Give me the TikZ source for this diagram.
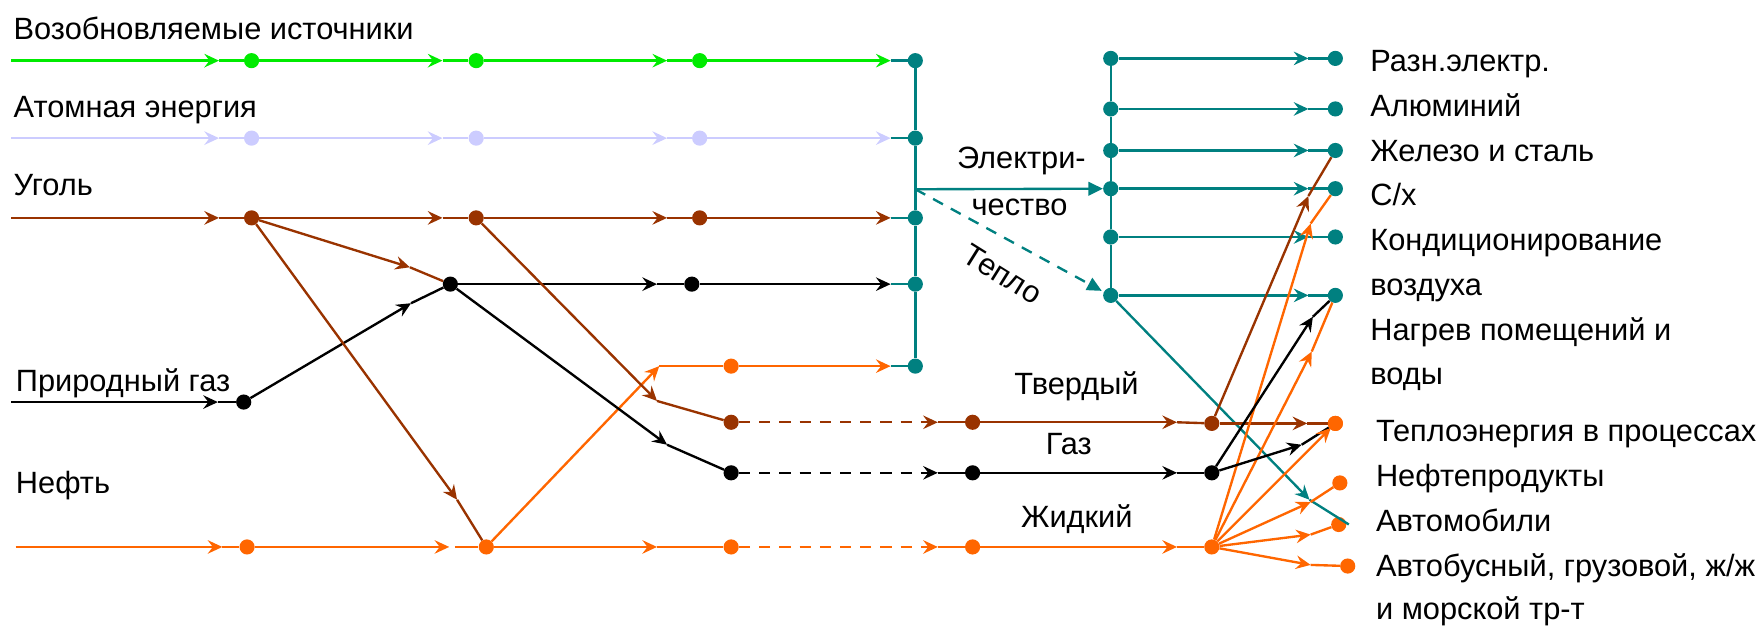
\documentclass[tikz,border=0pt]{standalone}
\usepackage{fontspec}
\setmainfont{Liberation Sans}
\usetikzlibrary{arrows.meta}
\definecolor{cgreen}{RGB}{0,235,0}
\definecolor{clav}{RGB}{204,204,255}
\definecolor{cbrown}{RGB}{153,51,0}
\definecolor{corange}{RGB}{255,102,0}
\definecolor{cteal}{RGB}{0,128,128}
\begin{document}
\begin{tikzpicture}[x=1pt,y=-1pt,
  ln/.style={line width=2.1pt},
  arr/.style={-{Stealth[length=13pt,width=12pt,inset=4.5pt]}},
  tri/.style={-{Triangle[length=13pt,width=12pt]}},
  dashln/.style={dash pattern=on 10pt off 8pt},
  dot/.style={circle,inner sep=0pt,minimum size=13.5pt,draw=none},
  lbl/.style={inner sep=0pt,anchor=base west,font=\fontsize{27.4}{32}\selectfont},
  clbl/.style={inner sep=0pt,font=\fontsize{27.4}{32}\selectfont}
]
\useasboundingbox (0,0) rectangle (1568,559);

% ---------- dots ----------
\foreach \n/\x in {1/224,2/424,3/623}{
  \node[dot,fill=cgreen] (g\n) at (\x,54) {};
  \node[dot,fill=clav] (l\n) at (\x,123) {};
  \node[dot,fill=cbrown] (c\n) at (\x,194) {};
}
\node[dot,fill=cteal] (t1) at (815,54) {};
\node[dot,fill=cteal] (t2) at (815,123) {};
\node[dot,fill=cteal] (t3) at (815,194) {};
\node[dot,fill=cteal] (t4) at (815,253) {};
\node[dot,fill=cteal] (t5) at (815,326) {};
\node[dot,fill=black] (k0) at (401,253) {};
\node[dot,fill=black] (k1) at (616,253) {};
\node[dot,fill=corange] (p1) at (651,326) {};
\node[dot,fill=black] (n1) at (217,358) {};
\node[dot,fill=corange] (o1) at (220,487) {};
\node[dot,fill=corange] (o2) at (433,487) {};
\node[dot,fill=corange] (o3) at (651,487) {};
\node[dot,fill=corange] (o4) at (866,487) {};
\node[dot,fill=corange] (hub) at (1079,487) {};
\node[dot,fill=cbrown] (s1) at (651,376) {};
\node[dot,fill=cbrown] (s2) at (866,376) {};
\node[dot,fill=cbrown] (s3) at (1079,377) {};
\node[dot,fill=black] (q1) at (651,421) {};
\node[dot,fill=black] (q2) at (866,421) {};
\node[dot,fill=black] (q3) at (1079,421) {};
\foreach \n/\y in {1/52,2/97,3/134,4/168,5/211,6/263}{
  \node[dot,fill=cteal] (r\n) at (989,\y) {};
  \node[dot,fill=cteal] (e\n) at (1189,\y) {};
  \coordinate (ra\n) at (1165,\y);
}
\node[dot,fill=corange] (h1) at (1189,377) {};
\node[dot,fill=corange] (h2) at (1193,430) {};
\node[dot,fill=corange] (h3) at (1192,467) {};
\node[dot,fill=corange] (h4) at (1200,504) {};

% ---------- coordinates ----------
\coordinate (gs) at (10,54);
\coordinate (ls) at (10,123);
\coordinate (cs) at (10,194);
\foreach \r/\y in {ga/54,la/123,ca/194}{
  \coordinate (\r1) at (195,\y);
  \coordinate (\r2) at (394,\y);
  \coordinate (\r3) at (594,\y);
  \coordinate (\r4) at (793,\y);
}
\coordinate (ka1) at (585,253);
\coordinate (ka2) at (793,253);
\coordinate (pa0) at (587,326);
\coordinate (pa1) at (793,326);
\coordinate (ns) at (10,358);
\coordinate (na1) at (194,358);
\coordinate (na2) at (366,270);
\coordinate (os) at (14,487);
\coordinate (oa1) at (198,487);
\coordinate (oa2) at (400,487);
\coordinate (ob2) at (405,487);
\coordinate (oa3) at (585,487);
\coordinate (oa4) at (835,487);
\coordinate (oa5) at (1048,487);
\coordinate (sa1) at (835,376);
\coordinate (sa2) at (1048,376);
\coordinate (sa3) at (1164,377);
\coordinate (qa1) at (835,421);
\coordinate (qa2) at (1048,421);
\coordinate (bca) at (365,238);
\coordinate (bcb) at (407,445);
\coordinate (bcc) at (585,357);
\coordinate (bkb) at (594,396);
\coordinate (ej) at (815,168.5);
\coordinate (hj) at (981,259);
\coordinate (xb) at (1165,174.5);
\coordinate (xo1) at (1167,199);
\coordinate (xo2) at (1168,313);
\coordinate (xk1) at (1169,282);
\coordinate (xk2) at (1159,396);
\coordinate (xo3) at (1185,381);
\coordinate (xt) at (1166,445);
\coordinate (xte) at (1201,467);
\coordinate (xo4) at (1167,447);
\coordinate (xo5) at (1167,476);
\coordinate (xo6) at (1167,503);

% ---------- top three rows ----------
\foreach \r/\d/\s/\col in {ga/g/gs/cgreen,la/l/ls/clav,ca/c/cs/cbrown}{
  \draw[ln,\col,arr] (\s) -- (\r1);
  \draw[ln,\col,arr] (\r1) -- (\d1) -- (\r2);
  \draw[ln,\col,arr] (\r2) -- (\d2) -- (\r3);
  \draw[ln,\col,arr] (\r3) -- (\d3) -- (\r4);
}
\draw[ln,cteal] (ga4) -- (t1);
\draw[ln,cteal] (la4) -- (t2);
\draw[ln,cteal] (ca4) -- (t3);

% ---------- black row ----------
\draw[ln,black,arr] (k0) -- (ka1);
\draw[ln,black,arr] (ka1) -- (k1) -- (ka2);
\draw[ln,cteal] (ka2) -- (t4);
% ---------- orange upper row ----------
\draw[ln,corange,arr] (o2) -- (pa0);
\draw[ln,corange,arr] (pa0) -- (p1) -- (pa1);
\draw[ln,cteal] (pa1) -- (t5);
% ---------- natural gas ----------
\draw[ln,black,arr] (ns) -- (na1);
\draw[ln,black] (na1) -- (n1);
\draw[ln,black,arr] (n1) -- (na2);
\draw[ln,black] (na2) -- (k0);
% ---------- coal branches ----------
\draw[ln,cbrown,arr] (c1) -- (bca);
\draw[ln,cbrown] (bca) -- (k0);
\draw[ln,cbrown,arr] (c1) -- (bcb);
\draw[ln,cbrown] (bcb) -- (o2);
\draw[ln,cbrown,arr] (c2) -- (bcc);
\draw[ln,cbrown] (bcc) -- (s1);
\draw[ln,black,arr] (k0) -- (bkb);
\draw[ln,black] (bkb) -- (q1);
% ---------- oil ----------
\draw[ln,corange,arr] (os) -- (oa1);
\draw[ln,corange,arr] (oa1) -- (o1) -- (oa2);
\draw[ln,corange] (ob2) -- (o2);
\draw[ln,corange,arr] (o2) -- (oa3);
\draw[ln,corange] (oa3) -- (o3);
\draw[ln,corange,dashln,arr] (o3) -- (oa4);
\draw[ln,corange] (oa4) -- (o4);
\draw[ln,corange,arr] (o4) -- (oa5);
\draw[ln,corange] (oa5) -- (hub);
% ---------- solid ----------
\draw[ln,cbrown,dashln,arr] (s1) -- (sa1);
\draw[ln,cbrown] (sa1) -- (s2);
\draw[ln,cbrown,arr] (s2) -- (sa2);
\draw[ln,cbrown] (sa2) -- (s3);
% ---------- gas ----------
\draw[ln,black,dashln,arr] (q1) -- (qa1);
\draw[ln,black] (qa1) -- (q2);
\draw[ln,black,arr] (q2) -- (qa2);
\draw[ln,black] (qa2) -- (q3);

% ---------- teal structure ----------
\draw[ln,cteal] (t1) -- (t2) -- (t3) -- (t4) -- (t5);
\draw[ln,cteal] (r1) -- (r2) -- (r3) -- (r4) -- (r5) -- (r6);
\draw[ln,cteal,tri] (ej) -- (r4);
\draw[ln,cteal,dashln,tri] (ej) -- (hj);
\foreach \n in {1,...,6}{
  \draw[ln,cteal,arr] (r\n) -- (ra\n);
  \draw[ln,cteal] (ra\n) -- (e\n);
}
\draw[ln,cteal,arr] (r6) -- (xt);
\draw[ln,cteal] (xt) -- (xte);

% ---------- right cluster ----------
\draw[ln,cbrown,arr] (s3) -- (xb);
\draw[ln,cbrown] (xb) -- (e3);
\draw[ln,cbrown,arr] (s3) -- (sa3);
\draw[ln,cbrown] (sa3) -- (h1);
\draw[ln,corange,arr] (hub) -- (xo1);
\draw[ln,corange] (xo1) -- (e4);
\draw[ln,corange,arr] (hub) -- (xo2);
\draw[ln,corange] (xo2) -- (e6);
\draw[ln,black,arr] (q3) -- (xk1);
\draw[ln,black] (xk1) -- (e6);
\draw[ln,black,arr] (q3) -- (xk2);
\draw[ln,black] (xk2) -- (h1);
\draw[ln,corange,arr] (hub) -- (xo3);
\draw[ln,corange,arr] (hub) -- (xo4);
\draw[ln,corange] (xo4) -- (h2);
\draw[ln,corange,arr] (hub) -- (xo5);
\draw[ln,corange] (xo5) -- (h3);
\draw[ln,corange,arr] (hub) -- (xo6);
\draw[ln,corange] (xo6) -- (h4);
\node[dot,fill=corange] at (h1) {};

% ---------- labels ----------
\node[lbl] (tRen) at (12,35.6) {Возобновляемые источники};
\node[lbl] (tAt) at (12,105) {Атомная энергия};
\node[lbl] (tCoal) at (12,174.5) {Уголь};
\node[lbl] (tNG) at (14,349) {Природный газ};
\node[lbl] (tOil) at (14,439) {Нефть};
\node[lbl] (tEl1) at (852,150) {Электри-};
\node[lbl] (tEl2) at (865,191.5) {чество};
\node[clbl,rotate=-32] (tHeat) at (893,244) {Тепло};
\node[lbl] (tSol) at (903,351) {Твердый};
\node[lbl] (tGas) at (931,405) {Газ};
\node[lbl] (tLiq) at (909,470) {Жидкий};
\node[lbl] (u1) at (1220,64) {Разн.электр.};
\node[lbl] (u2) at (1220,104) {Алюминий};
\node[lbl] (u3) at (1220,144) {Железо и сталь};
\node[lbl] (u4) at (1220,183) {С/х};
\node[lbl] (u5) at (1220,223) {Кондиционирование};
\node[lbl] (u6) at (1220,263) {воздуха};
\node[lbl] (u7) at (1220,303) {Нагрев помещений и};
\node[lbl] (u8) at (1220,342) {воды};
\node[lbl] (u9) at (1225,393) {Теплоэнергия в процессах};
\node[lbl] (u10) at (1225,433) {Нефтепродукты};
\node[lbl] (u11) at (1225,473) {Автомобили};
\node[lbl] (u12) at (1225,513) {Автобусный, грузовой, ж/ж};
\node[lbl] (u13) at (1225,552) {и морской тр-т};
\end{tikzpicture}
\end{document}
